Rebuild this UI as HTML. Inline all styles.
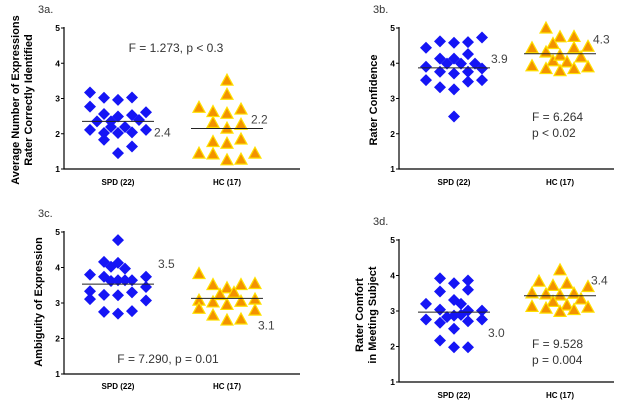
<!DOCTYPE html>
<html><head><meta charset="utf-8"><style>
body{margin:0;background:#fff}
svg{display:block;font-family:"Liberation Sans",sans-serif}
</style></head><body>
<svg id="c" width="624" height="404" viewBox="0 0 624 404"></svg>
<script>
const groups=["SPD (22)","HC (17)"];
const yTicks=[1,2,3,4,5];
// panel a
const aSpdVals=[3.17,3.02,2.96,3.03,2.77,2.56,2.61,2.35,2.49,2.53,2.39,2.11,2.02,2.19,2.02,2.19,2.04,2.11,1.83,1.64,1.45,2.35];
const aSpdLanes=[-4,-2,0,2,-4,-2,4,-3,0,2,3,-4,-2,-1,0,1,2,4,-2,2,0,-1];
const aHcVals=[3.52,3.12,2.75,2.63,2.58,2.70,2.32,2.16,2.27,1.78,1.73,1.85,1.45,1.43,1.26,1.28,1.45];
const aHcLanes=[0,0,-4,-2,0,2,-2,0,2,-2,0,2,-4,-2,0,2,4];
const aMeans=[2.35,2.15];
const aMeanLabels=["2.4","2.2"];
// panel b
const bSpdVals=[4.44,4.62,4.58,4.60,4.73,4.13,4.13,4.26,3.90,3.99,3.99,3.99,3.85,3.76,3.71,3.76,3.52,3.48,3.52,3.32,3.26,2.49];
const bSpdLanes=[-4,-2,0,2,4,-2,0,2,-4,-1,1,3,4,-2,0,2,-4,2,4,-2,0,0];
const bHcVals=[5.0,4.75,4.76,4.44,4.32,4.56,4.44,4.48,4.07,4.23,4.04,4.18,3.93,3.85,3.79,3.85,3.90];
const bHcLanes=[-2,0,2,-4,-2,-1,2,4,-1,0,1,3,-4,-2,0,2,4];
const bMeans=[3.87,4.27];
const bMeanLabels=["3.9","4.3"];
// panel c
const cSpdVals=[4.77,4.16,4.13,4.02,3.97,3.80,3.74,3.74,3.62,3.64,3.64,3.64,3.45,3.33,3.23,3.22,3.30,3.11,3.07,2.75,2.70,2.77];
const cSpdLanes=[0,-2,0,-1,1,-4,-2,4,-1,0,1,2,4,-4,-2,0,2,-4,4,-2,0,2];
const cHcVals=[3.83,3.52,3.43,3.52,3.55,3.24,3.30,3.08,3.03,2.96,3.05,3.11,2.85,2.66,2.52,2.55,2.80];
const cHcLanes=[-4,-2,0,2,4,-1,1,-4,-2,0,2,4,-4,-2,0,2,4];
const cMeans=[3.53,3.13];
const cMeanLabels=["3.5","3.1"];
// panel d
const dSpdVals=[3.92,3.78,3.86,3.55,3.60,3.31,3.20,3.20,2.83,3.04,2.87,3.01,3.01,2.76,2.89,2.76,2.67,2.71,2.50,2.17,1.98,1.98];
const dSpdLanes=[-2,0,2,-2,2,0,-4,1,-1,-2,0,2,4,-4,1,4,-2,2,0,-2,0,2];
const dHcVals=[4.16,3.84,3.72,3.78,3.69,3.51,3.48,3.45,3.50,3.34,3.27,3.13,3.08,3.17,2.99,3.04,3.11];
const dHcLanes=[0,-3,-1,1,4,-4,-2,0,2,3,-1,-4,-2,1,0,2,4];
const dMeans=[2.97,3.43];
const dMeanLabels=["3.0","3.4"];

const svg=document.getElementById('c');
const NS='http://www.w3.org/2000/svg';
function mk(tag,attrs,parent,text){const e=document.createElementNS(NS,tag);for(const k in attrs)e.setAttribute(k,attrs[k]);if(text!==undefined)e.textContent=text;(parent||svg).appendChild(e);return e;}

function panel(p){
  const g=mk('g',{});
  
  
  const y=v=>p.y1-(v-1)*(p.y1-p.y5)/4;
  const cx=[p.x0+p.c1,p.x0+p.c2];
  const lane=7;
  const axis=mk('path',{d:`M${p.x0} ${p.y5-1}V${p.y1}H${p.xEnd}`,stroke:'#000','stroke-width':1.2,fill:'none'},g);
  
  
  yTicks.forEach(t=>{
    mk('line',{x1:p.x0-3,x2:p.x0,y1:y(t),y2:y(t),stroke:'#000'},g);
    const tl=mk('text',{x:p.x0-4,y:y(t)+3,'font-size':8.5,'font-weight':'bold','text-anchor':'end'},g,t);
    
    
  });
  groups.forEach((gr,i)=>{
    const xl=mk('text',{x:cx[i],y:p.xlY,'font-size':8,'font-weight':'bold','text-anchor':'middle'},g,gr);
    
    
  });
  p.spd.forEach((v,i)=>{
    const X=cx[0]+p.spdL[i]*lane,Y=y(v);
    const d=mk('path',{d:`M${X} ${Y-6}L${X+6} ${Y}L${X} ${Y+6}L${X-6} ${Y}Z`,fill:'#1515f5'},g);
    
    
  });
  p.hc.forEach((v,i)=>{
    const X=cx[1]+p.hcL[i]*lane,Y=y(v);
    const t=mk('path',{d:`M${X} ${Y-6}L${X+6} ${Y+5}L${X-6} ${Y+5}Z`,fill:'#f39200',stroke:'#ffe000','stroke-width':1.2},g);
    
    
  });
  p.means.forEach((m,i)=>{
    const ml=mk('line',{x1:cx[i]-36,x2:cx[i]+36,y1:y(m),y2:y(m),stroke:'#222','stroke-width':1},g);
    
    
    const lb=mk('text',{x:cx[i]+p.lblDx[i],y:y(m)+p.lblDy[i],'font-size':12,fill:'#444'},g,p.mlab[i]);
    
    
  });
  const pl=mk('text',{x:p.x0-26,y:p.y5-15,'font-size':11,fill:'#333'},g,p.id+'.');
  
  
  p.title.forEach((t,i)=>{
    const tx=p.tx+i*13;
    const tt=mk('text',{x:tx,y:p.ty,'font-size':11,'font-weight':'bold','text-anchor':'middle',transform:`rotate(-90 ${tx} ${p.ty})`},g,t);
    
    
  });
  p.stats.forEach((s,i)=>{
    const st=mk('text',{x:p.sx,y:p.sy+i*16,'font-size':12,fill:'#333','text-anchor':p.sAnchor},g,s);
    
    
  });
}
panel({id:'3a',x0:64,xEnd:300,y5:28,y1:169,c1:54,c2:163,xlY:185,spd:aSpdVals,spdL:aSpdLanes,hc:aHcVals,hcL:aHcLanes,means:aMeans,mlab:aMeanLabels,lblDx:[36,24],lblDy:[15,-5],title:['Average Number of Expressions','Rater Correctly Identified'],tx:19,ty:100,stats:['F = 1.273, p < 0.3'],sx:176,sy:52,sAnchor:'middle'});
panel({id:'3b',x0:399,xEnd:614,y5:28,y1:169,c1:55,c2:161,xlY:185,spd:bSpdVals,spdL:bSpdLanes,hc:bHcVals,hcL:bHcLanes,means:bMeans,mlab:bMeanLabels,lblDx:[37,33],lblDy:[-5,-10],title:['Rater Confidence'],tx:377,ty:100,stats:['F = 6.264','p < 0.02'],sx:532,sy:121,sAnchor:'start'});
panel({id:'3c',x0:64,xEnd:300,y5:232,y1:374,c1:54,c2:163,xlY:389,spd:cSpdVals,spdL:cSpdLanes,hc:cHcVals,hcL:cHcLanes,means:cMeans,mlab:cMeanLabels,lblDx:[40,31],lblDy:[-16,31],title:['Ambiguity of Expression'],tx:42,ty:302,stats:['F = 7.290, p = 0.01'],sx:168,sy:363,sAnchor:'middle'});
panel({id:'3d',x0:399,xEnd:614,y5:240,y1:382,c1:55,c2:161,xlY:398,spd:dSpdVals,spdL:dSpdLanes,hc:dHcVals,hcL:dHcLanes,means:dMeans,mlab:dMeanLabels,lblDx:[34,31],lblDy:[25,-11],title:['Rater Comfort','in Meeting Subject'],tx:363,ty:315,stats:['F = 9.528','p = 0.004'],sx:532,sy:348,sAnchor:'start'});
</script>
</body></html>
